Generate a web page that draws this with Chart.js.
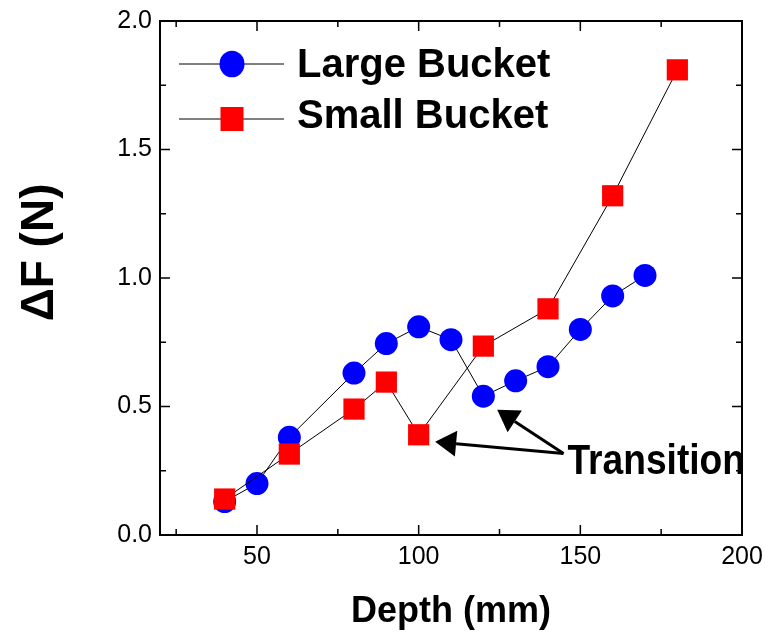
<!DOCTYPE html>
<html lang="en">
<head>
    <meta charset="UTF-8">
    <title>Delta F vs Depth</title>
    <script src="https://cdn.jsdelivr.net/npm/chart.js"></script>
    <style>
        body { margin: 0; background: #fff; }
    </style>
</head>
<body>
    <canvas id="forceChart" width="765" height="635"></canvas>

    <script>
        // data
        const depthLarge = [40, 50, 60, 80, 90, 100, 110, 120, 130, 140, 150, 160, 170];
        const forceLarge = [0.13, 0.20, 0.38, 0.63, 0.745, 0.81, 0.76, 0.54, 0.60, 0.655, 0.80, 0.93, 1.01];
        const depthSmall = [40, 60, 80, 90, 100, 120, 140, 160, 180];
        const forceSmall = [0.14, 0.315, 0.49, 0.595, 0.39, 0.735, 0.88, 1.32, 1.81];

        const seriesNames = ["Large Bucket", "Small Bucket"];
        const xTickValues = [25, 50, 75, 100, 125, 150, 175, 200];
        const yTickValues = [0, 0.25, 0.5, 0.75, 1.0, 1.25, 1.5, 1.75, 2.0];

        // "Transition" note, anchored in data units
        const noteText = "Transition";
        const noteAt = { x: 146, y: 0.238 };
        const arrowFrom = { x: 144.8, y: 0.317 };
        const arrowTips = [{ x: 105.1, y: 0.363 }, { x: 124.3, y: 0.487 }];

        const toPoints = (xs, ys) => xs.map((v, i) => ({ x: v, y: ys[i] }));

        const boxPlugin = {
            id: "box",
            afterDatasetsDraw(chart) {
                const { ctx, chartArea: a, scales: { x, y } } = chart;
                ctx.save();

                // inward ticks on all four sides
                ctx.strokeStyle = "#000";
                ctx.lineWidth = 1.5;
                ctx.beginPath();
                x.ticks.forEach((t) => {
                    const px = x.getPixelForValue(t.value);
                    const len = t.label ? 10 : 6;
                    ctx.moveTo(px, a.bottom); ctx.lineTo(px, a.bottom - len);
                    ctx.moveTo(px, a.top); ctx.lineTo(px, a.top + len);
                });
                y.ticks.forEach((t) => {
                    const py = y.getPixelForValue(t.value);
                    const len = t.label ? 10 : 6;
                    ctx.moveTo(a.left, py); ctx.lineTo(a.left + len, py);
                    ctx.moveTo(a.right, py); ctx.lineTo(a.right - len, py);
                });
                ctx.stroke();
                ctx.lineWidth = 2;
                ctx.strokeRect(a.left, a.top, a.right - a.left, a.bottom - a.top);

                // legend inside the plot
                chart.data.datasets.forEach((ds, i) => {
                    const my = a.top + 43 + i * 55;
                    const mx = a.left + 72;
                    ctx.lineWidth = 1;
                    ctx.strokeStyle = "#000";
                    ctx.beginPath();
                    ctx.moveTo(a.left + 19, my);
                    ctx.lineTo(a.left + 124, my);
                    ctx.stroke();
                    ctx.fillStyle = ds.pointBackgroundColor;
                    if (ds.pointStyle === "circle") {
                        ctx.beginPath();
                        ctx.ellipse(mx, my, 12.5, 13.3, 0, 0, Math.PI * 2);
                        ctx.fill();
                    } else {
                        ctx.fillRect(mx - 11.5, my - 12, 23, 24);
                    }
                    ctx.fillStyle = "#000";
                    ctx.font = "bold 40px 'Liberation Sans', Arial, sans-serif";
                    ctx.textBaseline = "alphabetic";
                    ctx.fillText(ds.label, a.left + 137, a.top + 56 + i * 51);
                });

                // arrows pointing at the transitions
                const fx = x.getPixelForValue(arrowFrom.x);
                const fy = y.getPixelForValue(arrowFrom.y);
                arrowTips.forEach((tip) => {
                    const tx = x.getPixelForValue(tip.x);
                    const ty = y.getPixelForValue(tip.y);
                    const ang = Math.atan2(ty - fy, tx - fx);
                    const headLen = 21, headHalf = 13;
                    const bx = tx - headLen * Math.cos(ang);
                    const by = ty - headLen * Math.sin(ang);
                    ctx.strokeStyle = "#000";
                    ctx.lineWidth = 3;
                    ctx.beginPath();
                    ctx.moveTo(fx, fy);
                    ctx.lineTo(bx, by);
                    ctx.stroke();
                    ctx.fillStyle = "#000";
                    ctx.beginPath();
                    ctx.moveTo(tx, ty);
                    ctx.lineTo(bx + headHalf * Math.sin(ang), by - headHalf * Math.cos(ang));
                    ctx.lineTo(bx - headHalf * Math.sin(ang), by + headHalf * Math.cos(ang));
                    ctx.closePath();
                    ctx.fill();
                });

                ctx.translate(x.getPixelForValue(noteAt.x), y.getPixelForValue(noteAt.y));
                ctx.scale(0.885, 1);
                ctx.fillStyle = "#000";
                ctx.font = "bold 42px 'Liberation Sans', Arial, sans-serif";
                ctx.textBaseline = "alphabetic";
                ctx.fillText(noteText, 0, 0);

                ctx.restore();
            }
        };

        const tickFont = { family: "'Liberation Sans', Arial, sans-serif", size: 25 };

        new Chart(document.getElementById("forceChart"), {
            type: "scatter",
            data: {
                datasets: [
                    {
                        label: seriesNames[0],
                        data: toPoints(depthLarge, forceLarge),
                        showLine: true,
                        borderColor: "#000",
                        borderWidth: 1,
                        pointStyle: "circle",
                        pointRadius: 11.5,
                        pointHoverRadius: 11.5,
                        pointBackgroundColor: "#0000ff",
                        pointBorderColor: "#0000ff",
                        pointBorderWidth: 0,
                        order: 1
                    },
                    {
                        label: seriesNames[1],
                        data: toPoints(depthSmall, forceSmall),
                        showLine: true,
                        borderColor: "#000",
                        borderWidth: 1,
                        pointStyle: "rect",
                        pointRadius: 15,
                        pointHoverRadius: 15,
                        pointBackgroundColor: "#ff0000",
                        pointBorderColor: "#ff0000",
                        pointBorderWidth: 0,
                        order: 0
                    }
                ]
            },
            options: {
                responsive: false,
                animation: false,
                layout: { padding: { left: 0, top: 21, right: 23, bottom: 0 } },
                plugins: {
                    legend: { display: false },
                    tooltip: { enabled: false }
                },
                scales: {
                    x: {
                        type: "linear",
                        min: 20,
                        max: 200,
                        grid: { display: false, drawTicks: false },
                        border: { display: false },
                        afterBuildTicks: (scale) => { scale.ticks = xTickValues.map((v) => ({ value: v })); },
                        afterFit: (scale) => {
                            scale.height = 100;
                            scale.paddingLeft = 0;
                            scale.paddingRight = 0;
                        },
                        ticks: {
                            autoSkip: false,
                            maxRotation: 0,
                            padding: 7,
                            color: "#000",
                            font: tickFont,
                            callback: (v) => (v % 50 === 0 ? String(v) : "")
                        },
                        title: {
                            display: true,
                            text: "Depth (mm)",
                            color: "#000",
                            padding: { top: 0, bottom: 5 },
                            font: { family: "'Liberation Sans', Arial, sans-serif", size: 36, weight: "bold", lineHeight: 1 }
                        }
                    },
                    y: {
                        min: 0,
                        max: 2,
                        grid: { display: false, drawTicks: false },
                        border: { display: false },
                        afterBuildTicks: (scale) => { scale.ticks = yTickValues.map((v) => ({ value: v })); },
                        afterFit: (scale) => {
                            scale.width = 160;
                            scale.paddingTop = 0;
                            scale.paddingBottom = 0;
                        },
                        ticks: {
                            autoSkip: false,
                            padding: 8,
                            color: "#000",
                            font: tickFont,
                            callback: (v) => (v % 0.5 === 0 ? v.toFixed(1) : "")
                        },
                        title: {
                            display: true,
                            text: "    \u0394F (N)",
                            color: "#000",
                            padding: { top: 17, bottom: 0 },
                            font: { family: "'Liberation Sans', Arial, sans-serif", size: 46, weight: "bold", lineHeight: 1 }
                        }
                    }
                }
            },
            plugins: [boxPlugin]
        });
    </script>
</body>
</html>
